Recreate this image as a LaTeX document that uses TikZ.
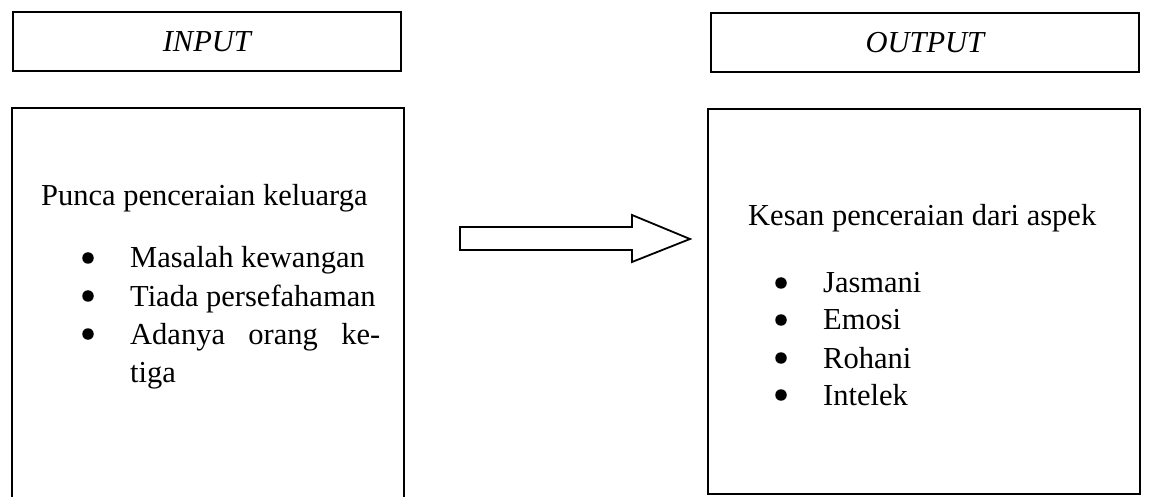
\documentclass[tikz,border=0pt]{standalone}
\usepackage{fontspec}
\setmainfont{Liberation Serif}
\begin{document}
\begin{tikzpicture}[x=1pt,y=-1pt,
  box/.style={draw,line width=1.8pt},
  hdr/.style={box,minimum height=59pt,anchor=north west,inner sep=0,font=\itshape\fontsize{30.5}{36}\selectfont},
  txt/.style={anchor=base west,inner sep=0,font=\fontsize{30.5}{36}\selectfont},
  dot/.style={circle,fill,inner sep=0,minimum size=11.5pt}]
\useasboundingbox (0,0) rectangle (1152,497);
\fill[white] (0,0) rectangle (1152,497);
% headers
\node[hdr,minimum width=388pt] (in) at (12,11) {INPUT};
\node[hdr,minimum width=428pt] (out) at (710,12) {OUTPUT};
% left box (bottom edge cut off)
\coordinate (lbl) at (12,498);
\coordinate (ltl) at (12,108);
\coordinate (ltr) at (404,108);
\coordinate (lbr) at (404,498);
\draw[box] (lbl) -- (ltl) -- (ltr) -- (lbr);
% right box
\node[box,anchor=north west,minimum width=432pt,minimum height=385pt,inner sep=0] (rbox) at (707,108) {};
% left text
\node[txt] (l0) at (41,206) {Punca penceraian keluarga};
\node[dot] (lb1) at (88,258) {};
\node[txt] (l1) at (130,268) {Masalah kewangan};
\node[dot] (lb2) at (88,296) {};
\node[txt] (l2) at (130,306) {Tiada persefahaman};
\node[dot] (lb3) at (88,334) {};
\node[txt] (l3) at (130,344) {\makebox[250pt][s]{Adanya orang ke-}};
\node[txt] (l4) at (130,382) {tiga};
% right text
\node[txt] (r0) at (748,226) {Kesan penceraian dari aspek};
\node[dot] (rb1) at (781,283) {};
\node[txt] (r1) at (823,293) {Jasmani};
\node[dot] (rb2) at (781,320) {};
\node[txt] (r2) at (823,330) {Emosi};
\node[dot] (rb3) at (781,358) {};
\node[txt] (r3) at (823,368) {Rohani};
\node[dot] (rb4) at (781,395) {};
\node[txt] (r4) at (823,405) {Intelek};
% block arrow
\draw[line width=1.8pt,line join=miter] (460,227) -- (632,227) -- (632,215) -- (690,239) -- (632,262) -- (632,250) -- (460,250) -- cycle;
\end{tikzpicture}
\end{document}
